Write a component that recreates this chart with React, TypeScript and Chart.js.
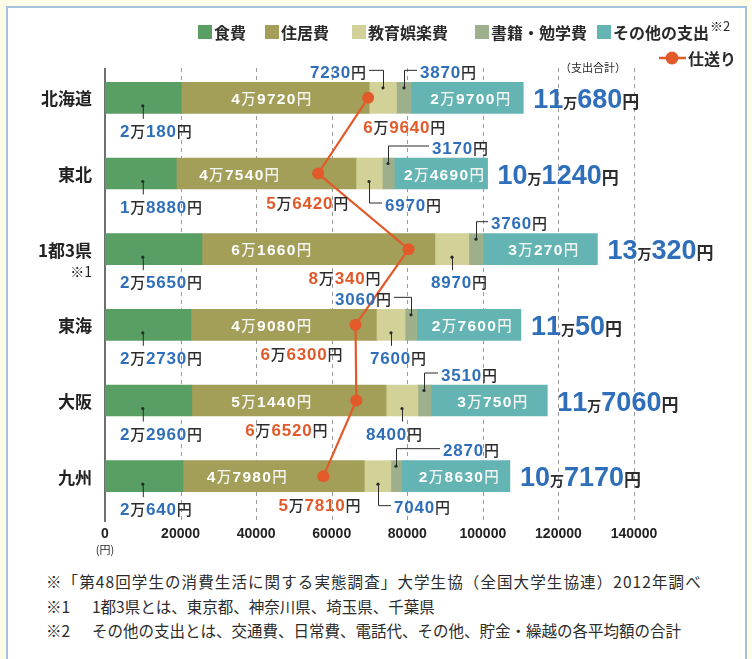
import React, { useEffect, useRef } from 'react';
import { Chart, registerables } from 'chart.js';

Chart.register(...registerables);

// ---------------- data ----------------
const REGIONS = ['北海道', '東北', '1都3県', '東海', '大阪', '九州'];
const REGION_NOTES = ['', '', '※1', '', '', ''];
const SERIES_NAMES = ['食費', '住居費', '教育娯楽費', '書籍・勉学費', 'その他の支出'];
const FOOD = [20180, 18880, 25650, 22730, 22960, 20640];
const HOUSING = [49720, 47540, 61660, 49080, 51440, 47980];
const LEISURE = [7230, 6970, 8970, 7600, 8400, 7040];
const BOOKS = [3870, 3170, 3760, 3060, 3510, 2870];
const OTHER = [29700, 24690, 30270, 27600, 30750, 28630];
const TOTAL = [110680, 101240, 130320, 110050, 117060, 107170];
const LINE_NAME = '仕送り';
const ALLOWANCE = [69640, 56420, 80340, 66300, 66520, 57810];
const X_TICKS = [0, 20000, 40000, 60000, 80000, 100000, 120000, 140000];
const FOOTNOTES = [
  ['※「第48回学生の消費生活に関する実態調査」大学生協（全国大学生協連）2012年調べ', ''],
  ['※1', '1都3県とは、東京都、神奈川県、埼玉県、千葉県'],
  ['※2', 'その他の支出とは、交通費、日常費、電話代、その他、貯金・繰越の各平均額の合計'],
];

// ---------------- layout / style ----------------
const COLORS = ['#599e63', '#a39e58', '#d2d197', '#9db08b', '#63b4b3'];
const ORANGE = '#e25a2a';
const BLUE = '#2f6fba';
const DARK = '#2b2b2b';
const NUM_FONT = "'Liberation Sans', Arial, sans-serif";
const JP_FONT = "'Noto Sans CJK JP', 'Noto Sans', sans-serif";

// centre of the white housing label, in yen along the axis
const HOUSING_LABEL_AT = [44000, 35500, 44000, 44000, 44000, 37500];
const LEISURE_CALLOUT = [
  { kind: 'upLeft', arm: 14, dx: 0 },
  { kind: 'downRight', arm: 13, dx: 0 },
  { kind: 'down', arm: 0, dx: 7 },
  { kind: 'down', arm: 0, dx: 7 },
  { kind: 'down', arm: 0, dx: -8 },
  { kind: 'downRight', arm: 13, dx: 0 },
];
const BOOKS_CALLOUT = [
  { kind: 'upRight', arm: 13, dx: 0 },
  { kind: 'upRight', arm: 41, dx: 0 },
  { kind: 'upRight', arm: 12, dx: 0 },
  { kind: 'upLeft', arm: 17, dx: 0 },
  { kind: 'upRight', arm: 14, dx: 0 },
  { kind: 'upRight', arm: 44, dx: 0 },
];
const ALLOWANCE_LABEL_DX = [-5, -52, -100, -95, -111, -45];

type Part = { t: string; f: string; c: string; ls: number };

function partsWidth(ctx: CanvasRenderingContext2D, parts: Part[]) {
  let w = 0;
  for (const p of parts) {
    ctx.font = p.f;
    for (const ch of p.t) w += ctx.measureText(ch).width + p.ls;
  }
  return w;
}

function drawParts(
  ctx: CanvasRenderingContext2D,
  parts: Part[],
  x: number,
  baseline: number,
  align: 'left' | 'right' | 'center'
) {
  const w = partsWidth(ctx, parts);
  let cx = align === 'left' ? x : align === 'right' ? x - w : x - w / 2;
  ctx.textAlign = 'left';
  ctx.textBaseline = 'alphabetic';
  for (const p of parts) {
    ctx.font = p.f;
    ctx.fillStyle = p.c;
    for (const ch of p.t) {
      ctx.fillText(ch, cx, baseline);
      cx += ctx.measureText(ch).width + p.ls;
    }
  }
}

function yenParts(
  v: number,
  numF: string,
  unitF: string,
  numC: string,
  unitC: string,
  ls: number,
  manF?: string
): Part[] {
  const man = Math.floor(v / 10000);
  const rest = v % 10000;
  const parts: Part[] = [];
  if (man > 0) {
    parts.push({ t: String(man), f: numF, c: numC, ls });
    parts.push({ t: '万', f: manF || unitF, c: unitC, ls });
  }
  if (rest > 0 || man === 0) parts.push({ t: String(rest), f: numF, c: numC, ls });
  parts.push({ t: '円', f: unitF, c: unitC, ls: 0 });
  return parts;
}

const BLUE_NUM = `bold 17px ${NUM_FONT}`;
const UNIT = `500 15px ${JP_FONT}`;

function blueLabel(v: number) {
  return yenParts(v, BLUE_NUM, UNIT, BLUE, DARK, 0.8);
}

function line(ctx: CanvasRenderingContext2D, pts: number[][]) {
  ctx.beginPath();
  ctx.moveTo(pts[0][0], pts[0][1]);
  for (let i = 1; i < pts.length; i++) ctx.lineTo(pts[i][0], pts[i][1]);
  ctx.stroke();
}

function dot(ctx: CanvasRenderingContext2D, x: number, y: number) {
  ctx.beginPath();
  ctx.arc(x, y, 1.6, 0, Math.PI * 2);
  ctx.fill();
}

function callout(
  ctx: CanvasRenderingContext2D,
  cfg: { kind: string; arm: number; dx: number },
  sx: number,
  yc: number,
  v: number
) {
  ctx.save();
  ctx.strokeStyle = DARK;
  ctx.fillStyle = DARK;
  ctx.lineWidth = 1;
  const parts = blueLabel(v);
  const cap = 6;
  if (cfg.kind === 'upLeft') {
    dot(ctx, sx, yc - 10);
    line(ctx, [[sx + 0.5, yc - 10], [sx + 0.5, yc - 27.5], [sx - cfg.arm, yc - 27.5]]);
    drawParts(ctx, parts, sx - cfg.arm - 3, yc - 26 + cap, 'right');
  } else if (cfg.kind === 'upRight') {
    dot(ctx, sx, yc - 10);
    line(ctx, [[sx + 0.5, yc - 10], [sx + 0.5, yc - 27.5], [sx + cfg.arm, yc - 27.5]]);
    drawParts(ctx, parts, sx + cfg.arm + 3, yc - 26 + cap, 'left');
  } else if (cfg.kind === 'downRight') {
    dot(ctx, sx, yc + 8);
    line(ctx, [[sx + 0.5, yc + 8], [sx + 0.5, yc + 29.5], [sx + cfg.arm, yc + 29.5]]);
    drawParts(ctx, parts, sx + cfg.arm + 3, yc + 31 + cap, 'left');
  } else {
    dot(ctx, sx, yc + 8);
    line(ctx, [[sx + 0.5, yc + 8], [sx + 0.5, yc + 21]]);
    drawParts(ctx, parts, sx + cfg.dx, yc + 33 + cap, 'center');
  }
  ctx.restore();
}

const decorPlugin = {
  id: 'decor',
  beforeDatasetsDraw(chart: any) {
    const ctx: CanvasRenderingContext2D = chart.ctx;
    const xs = chart.scales.x;
    const area = chart.chartArea;
    ctx.save();
    ctx.strokeStyle = '#9a9a9a';
    ctx.lineWidth = 1;
    ctx.setLineDash([4, 4]);
    for (const t of X_TICKS) {
      if (t === 0) continue;
      const x = Math.round(xs.getPixelForValue(t)) + 0.5;
      line(ctx, [[x, area.top + 8], [x, area.bottom + 7]]);
    }
    ctx.setLineDash([]);
    ctx.strokeStyle = '#222';
    ctx.lineWidth = 1.3;
    const x0 = xs.getPixelForValue(0);
    line(ctx, [[x0, area.top + 8], [x0, area.bottom + 8]]);
    ctx.restore();
  },
  afterDatasetsDraw(chart: any) {
    const ctx: CanvasRenderingContext2D = chart.ctx;
    const xs = chart.scales.x;
    const ys = chart.scales.y;
    ctx.save();

    REGIONS.forEach((name, i) => {
      const yc = ys.getPixelForValue(i);
      // category names
      ctx.fillStyle = '#222';
      ctx.font = `bold 17px ${JP_FONT}`;
      ctx.textAlign = 'right';
      ctx.textBaseline = 'middle';
      ctx.fillText(name, 92, yc + 1);
      if (REGION_NOTES[i]) {
        ctx.font = `14px ${JP_FONT}`;
        ctx.fillText(REGION_NOTES[i], 92, yc + 23);
      }

      // food label (below)
      const fx = xs.getPixelForValue(10000);
      ctx.strokeStyle = DARK;
      ctx.fillStyle = DARK;
      ctx.lineWidth = 1;
      dot(ctx, fx, yc + 8);
      line(ctx, [[fx + 0.5, yc + 8], [fx + 0.5, yc + 21]]);
      drawParts(ctx, blueLabel(FOOD[i]), xs.getPixelForValue(0) + 15, yc + 39, 'left');

      // housing label (inside, white)
      const wNum = `bold 15.5px ${NUM_FONT}`;
      const wUnit = `500 14.5px ${JP_FONT}`;
      drawParts(
        ctx,
        yenParts(HOUSING[i], wNum, wUnit, '#ffffff', '#f4f4f0', 1.3),
        xs.getPixelForValue(HOUSING_LABEL_AT[i]),
        yc + 6,
        'center'
      );

      // leisure and books call-outs
      const c1 = FOOD[i] + HOUSING[i];
      const c2 = c1 + LEISURE[i];
      const c3 = c2 + BOOKS[i];
      const c4 = c3 + OTHER[i];
      callout(ctx, LEISURE_CALLOUT[i], Math.round(xs.getPixelForValue((c1 + c2) / 2)), yc, LEISURE[i]);
      callout(ctx, BOOKS_CALLOUT[i], Math.round(xs.getPixelForValue((c2 + c3) / 2)), yc, BOOKS[i]);

      // other label (inside, white)
      drawParts(
        ctx,
        yenParts(OTHER[i], wNum, wUnit, '#ffffff', '#f4f4f0', 1.3),
        xs.getPixelForValue((c3 + c4) / 2) + 3,
        yc + 6,
        'center'
      );

      // total
      const tNum = `bold 27px ${NUM_FONT}`;
      const tUnit = `bold 17px ${JP_FONT}`;
      const tMan = `bold 14px ${JP_FONT}`;
      drawParts(
        ctx,
        yenParts(TOTAL[i], tNum, tUnit, BLUE, DARK, 0, tMan),
        xs.getPixelForValue(c4) + 10,
        yc + 10,
        'left'
      );

      // allowance label
      const ax = xs.getPixelForValue(ALLOWANCE[i]);
      drawParts(
        ctx,
        yenParts(ALLOWANCE[i], BLUE_NUM, UNIT, ORANGE, DARK, 0.8),
        ax + ALLOWANCE_LABEL_DX[i],
        yc + 35,
        'left'
      );
    });

    // legend
    const legX = [198, 265, 352, 475, 597];
    SERIES_NAMES.forEach((n, k) => {
      ctx.fillStyle = COLORS[k];
      ctx.fillRect(legX[k], 25, 14, 14);
      ctx.fillStyle = '#2a2a2a';
      ctx.font = `bold 16px ${JP_FONT}`;
      ctx.textAlign = 'left';
      ctx.textBaseline = 'middle';
      ctx.fillText(n, legX[k] + 16, 33);
    });
    ctx.font = `13px ${JP_FONT}`;
    ctx.fillStyle = '#2a2a2a';
    ctx.fillText('※2', 710, 26);
    ctx.strokeStyle = ORANGE;
    ctx.lineWidth = 2.5;
    line(ctx, [[659, 58], [686, 58]]);
    ctx.fillStyle = ORANGE;
    ctx.beginPath();
    ctx.arc(672, 58, 6.5, 0, Math.PI * 2);
    ctx.fill();
    ctx.fillStyle = '#2a2a2a';
    ctx.font = `bold 16px ${JP_FONT}`;
    ctx.fillText(LINE_NAME, 688, 59);

    ctx.font = `11px ${JP_FONT}`;
    ctx.textAlign = 'center';
    ctx.fillText('（支出合計）', 593, 68);
    ctx.fillText('(円)', xs.getPixelForValue(0), 550);

    ctx.restore();
  },
};

export default function App() {
  const ref = useRef<HTMLCanvasElement>(null);
  useEffect(() => {
    const canvas = ref.current!;
    const spend = [FOOD, HOUSING, LEISURE, BOOKS, OTHER];
    const chart = new Chart(canvas, {
      type: 'bar',
      data: {
        labels: REGIONS,
        datasets: [
          {
            type: 'line',
            label: LINE_NAME,
            data: ALLOWANCE,
            borderColor: ORANGE,
            backgroundColor: ORANGE,
            borderWidth: 2.2,
            pointRadius: 6,
            pointHoverRadius: 6,
            pointBorderWidth: 0,
            pointBackgroundColor: ORANGE,
            order: 0,
            stack: 'allowance',
            indexAxis: 'y',
          } as any,
          ...spend.map((s, k) => ({
            type: 'bar' as const,
            label: SERIES_NAMES[k],
            data: s,
            backgroundColor: COLORS[k],
            borderWidth: 0,
            barThickness: 31,
            order: 1,
            stack: 'spend',
          })),
        ],
      },
      options: {
        indexAxis: 'y',
        animation: false,
        responsive: false,
        events: [],
        layout: { padding: { left: 105, right: 118, top: 60, bottom: 0 } },
        plugins: { legend: { display: false }, tooltip: { enabled: false } },
        scales: {
          x: {
            type: 'linear',
            stacked: true,
            min: 0,
            max: 140000,
            afterBuildTicks: (s: any) => {
              s.ticks = X_TICKS.map((v) => ({ value: v }));
            },
            afterFit: (s: any) => {
              s.height = 46;
            },
            ticks: {
              padding: 12,
              color: '#222',
              font: { family: NUM_FONT, weight: 'bold', size: 14 },
              callback: (v: any) => String(v),
            },
            grid: { display: false, drawTicks: false },
            border: { display: false },
          },
          y: {
            type: 'category',
            stacked: true,
            display: false,
          },
        },
      },
      plugins: [decorPlugin],
    } as any);
    return () => chart.destroy();
  }, []);

  return (
    <div
      style={{
        position: 'absolute',
        left: 0,
        top: 0,
        width: 752,
        height: 659,
        background: '#fffde8',
        overflow: 'hidden',
      }}
    >
      <div
        style={{
          position: 'absolute',
          left: 6,
          top: 6,
          width: 741,
          height: 700,
          background: '#ffffff',
          border: '2px solid #a6c1dc',
          boxSizing: 'border-box',
        }}
      />
      <canvas
        ref={ref}
        width={752}
        height={560}
        style={{ position: 'absolute', left: 0, top: 0, width: 752, height: 560 }}
      />
      {FOOTNOTES.map((f, i) => (
        <div
          key={i}
          style={{
            position: 'absolute',
            left: 46,
            top: 572 + i * 24.5,
            fontFamily: JP_FONT,
            fontSize: 15.5,
            lineHeight: '18px',
            color: '#2b2b2b',
            whiteSpace: 'nowrap',
            letterSpacing: i === 0 ? 1.1 : 0,
          }}
        >
          {f[1] ? (
            <>
              <span style={{ display: 'inline-block', width: 46 }}>{f[0]}</span>
              <span>{f[1]}</span>
            </>
          ) : (
            f[0]
          )}
        </div>
      ))}
    </div>
  );
}
